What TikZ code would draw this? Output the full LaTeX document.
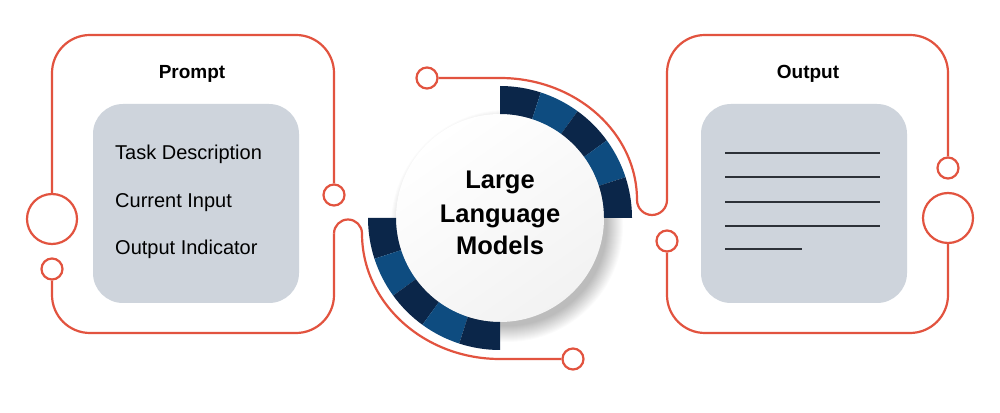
\documentclass[tikz,border=0pt]{standalone}
\usepackage{fontspec}
\setmainfont{Liberation Sans}
\definecolor{org}{HTML}{E2533F}
\definecolor{greybox}{HTML}{CED4DC}
\definecolor{ringdark}{HTML}{0B2649}
\definecolor{ringblue}{HTML}{0E4C80}
\definecolor{rule}{HTML}{2D3138}
\begin{document}
\begin{tikzpicture}[x=1pt,y=1pt,
  orgline/.style={draw=org, line width=2.2pt},
  port/.style={circle, draw=org, line width=2.2pt, fill=white, inner sep=0pt},
  bigport/.style={port, minimum size=50pt},
  smallport/.style={port, minimum size=21pt},
  panel/.style={fill=greybox, rounded corners=30pt},
  title/.style={font=\bfseries\fontsize{19}{23}\selectfont, anchor=base},
  item/.style={font=\fontsize{20}{24}\selectfont, anchor=base west, inner sep=0pt},
  llm/.style={font=\bfseries\fontsize{25.5}{30}\selectfont, anchor=base, inner sep=0pt},
  textrule/.style={draw=rule, line width=1.3pt}
]
\useasboundingbox (0,0) rectangle (1000,412);
\fill[white] (0,0) rectangle (1000,412);

% grey panels
\fill[panel] (93,109) rectangle (299,308);
\fill[panel] (701,109) rectangle (907,308);

% ports
\node[bigport] (bigL) at (52,193) {};
\node[smallport] (smL) at (52,143) {};
\node[smallport] (smLR) at (334,217) {};
\node[smallport] (smT) at (427,334) {};
\node[smallport] (smB) at (573,53) {};
\node[smallport] (smRL) at (667,171) {};
\node[smallport] (smRR) at (948,244) {};
\node[bigport] (bigR) at (948,194) {};

% left frame
\draw[orgline, rounded corners=38pt] (bigL.north) -- (52,377) -- (334,377) -- (smLR.north);
\draw[orgline, rounded corners=38pt] (smL.south) -- (52,79) -- (334,79) -- (334,178.5);
\draw[orgline] (334,178.5) arc[start angle=180, end angle=0, radius=14]
  arc[start angle=180, end angle=270, x radius=138, y radius=125.5] -- (smB.west);

% top connector and right frame
\draw[orgline] (smT.east) -- (500,334)
  arc[start angle=90, end angle=0, x radius=137, y radius=122]
  arc[start angle=180, end angle=360, radius=15];
\draw[orgline, rounded corners=38pt] (667,212) -- (667,377) -- (948,377) -- (smRR.north);
\draw[orgline, rounded corners=38pt] (smRL.south) -- (667,79) -- (948,79) -- (bigR.south);

% central circle shadow
\foreach \i in {0,...,16} {
  \fill[black, opacity=0.014] (507,186) circle ({100+\i});
}
\shade[top color=white, bottom color=black!5, shading angle=35] (500,194) circle (104);

% ring segments
\begin{scope}[shift={(500,194)}]
  \foreach \a/\c in {72/ringdark,54/ringblue,36/ringdark,18/ringblue,0/ringdark,
                     180/ringdark,198/ringblue,216/ringdark,234/ringblue,252/ringdark} {
    \fill[\c] (\a:132) arc[start angle=\a, end angle=\a+18, radius=132]
      -- ({\a+18}:104) arc[start angle=\a+18, end angle=\a, radius=104] -- cycle;
  }
\end{scope}

% texts
\node[title] (ptitle) at (192,333.7) {Prompt};
\node[title] (otitle) at (808,333.7) {Output};
\node[item] (t1) at (115,252.7) {Task Description};
\node[item] (t2) at (115,204.3) {Current Input};
\node[item] (t3) at (115,157) {Output Indicator};
\node[llm] (l1) at (500,223) {Large};
\node[llm] (l2) at (500,189) {Language};
\node[llm] (l3) at (500,157) {Models};

% output rules
\coordinate (r1a) at (725,259); \coordinate (r1b) at (880,259);
\coordinate (r2a) at (725,235); \coordinate (r2b) at (880,235);
\coordinate (r3a) at (725,210); \coordinate (r3b) at (880,210);
\coordinate (r4a) at (725,186); \coordinate (r4b) at (880,186);
\coordinate (r5a) at (725,163); \coordinate (r5b) at (802,163);
\draw[textrule] (r1a) -- (r1b);
\draw[textrule] (r2a) -- (r2b);
\draw[textrule] (r3a) -- (r3b);
\draw[textrule] (r4a) -- (r4b);
\draw[textrule] (r5a) -- (r5b);
\end{tikzpicture}
\end{document}
